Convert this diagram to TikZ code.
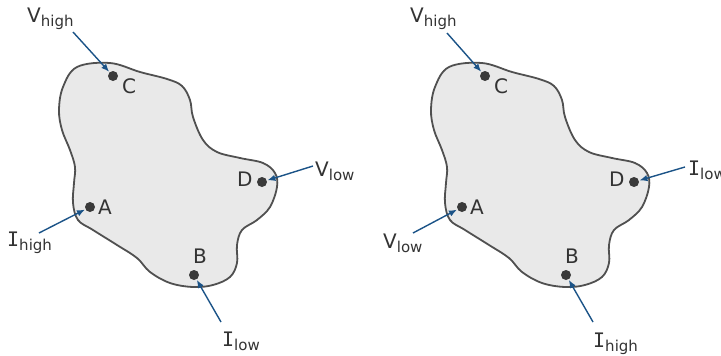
\documentclass[tikz,border=0pt]{standalone}
\usepackage{fontspec}
\setmainfont{DejaVu Sans}
\newfontfamily\serifI{DejaVu Sans Mono}
\usetikzlibrary{arrows.meta}

\definecolor{blobline}{HTML}{505050}
\definecolor{blobfill}{HTML}{E9E9E9}
\definecolor{dotgray}{HTML}{3A3A3A}
\definecolor{arrblue}{HTML}{1B5387}
\definecolor{txtgray}{HTML}{333333}

\newcommand{\sub}[2]{#1\raisebox{-4pt}{\fontsize{15}{15}\selectfont #2}}
\newcommand{\Iq}{{\serifI I}}

\begin{document}
\begin{tikzpicture}[x=1pt, y=-1pt,
    blob/.style={draw=blobline, fill=blobfill, line width=1.8pt},
    dot/.style={circle, fill=dotgray, inner sep=0pt, minimum size=10pt},
    pt/.style={anchor=base west, inner sep=0pt, text=txtgray, font=\fontsize{20}{24}\selectfont},
    lbl/.style={anchor=base west, inner sep=0pt, text=txtgray, font=\fontsize{20}{24}\selectfont},
    arr/.style={draw=arrblue, line width=1.4pt, -{Latex[length=8pt,width=6.5pt]}, shorten >=0.5pt}]
    \useasboundingbox (0,0) rectangle (721,356);

    % the two samples
    \foreach \dx/\s in {0/L, 372/R} {
      \begin{scope}[xshift=\dx]
        \path[blob] plot[smooth cycle, tension=0.6] coordinates {
          (77,67) (110,63) (140,72) (167,79) (182,86) (190,100) (193,117)
          (203,140) (217,152) (240,158) (263,163) (275,173) (277,187)
          (270,207) (257,220) (242,230) (237,245) (237,263) (230,277)
          (213,285) (193,287) (170,283) (150,272) (137,258) (117,245)
          (93,230) (78,220) (73,203) (74,183) (75,167) (70,150) (62,130)
          (59,110) (63,87)};
        \node[dot] (c\s) at (113,76) {};
        \node[dot] (d\s) at (262,182) {};
        \node[dot] (a\s) at (90,207) {};
        \node[dot] (b\s) at (194,275) {};
        \node[pt] (cl\s) at (122,93) {C};
        \node[pt] (dl\s) at (237,186) {D};
        \node[pt] (al\s) at (98,214) {A};
        \node[pt] (bl\s) at (193,263) {B};
      \end{scope}
    }

    % left: current through A-B, voltage on C-D
    \node[lbl] (vhL) at (27,22) {\sub{V}{high}};
    \node[lbl] (vlL) at (315,176) {\sub{V}{low}};
    \node[lbl] (ihL) at (7,246) {\sub{\Iq}{high}};
    \node[lbl] (ilL) at (222,346) {\sub{\Iq}{low}};
    \coordinate (vhLs) at (73,32);
    \coordinate (vlLs) at (313,166);
    \coordinate (ihLs) at (39,233);
    \coordinate (ilLs) at (221,322);
    \draw[arr] (vhLs) -- (cL);
    \draw[arr] (vlLs) -- (dL);
    \draw[arr] (ihLs) -- (aL);
    \draw[arr] (ilLs) -- (bL);

    % right: current through B-D, voltage on C-A
    \node[lbl] (vhR) at (410,22) {\sub{V}{high}};
    \node[lbl] (ilR) at (688,175) {\sub{\Iq}{low}};
    \node[lbl] (vlR) at (383,248) {\sub{V}{low}};
    \node[lbl] (ihR) at (593,347) {\sub{\Iq}{high}};
    \coordinate (vhRs) at (447,33);
    \coordinate (ilRs) at (685,167);
    \coordinate (vlRs) at (413,233);
    \coordinate (ihRs) at (593,322);
    \draw[arr] (vhRs) -- (cR);
    \draw[arr] (ilRs) -- (dR);
    \draw[arr] (vlRs) -- (aR);
    \draw[arr] (ihRs) -- (bR);
\end{tikzpicture}
\end{document}
